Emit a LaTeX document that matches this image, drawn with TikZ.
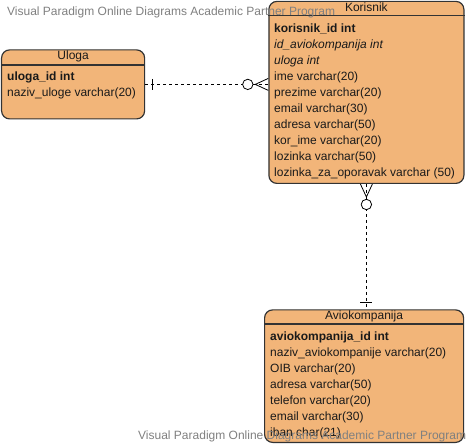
\documentclass[tikz,border=0pt]{standalone}
\usepackage{fontspec}
\setmainfont{Liberation Sans}
\usetikzlibrary{positioning, calc}
\definecolor{entity_fill}{RGB}{242, 181, 121}
\definecolor{entity_line}{RGB}{51, 51, 51}
\definecolor{text_dark}{RGB}{26, 26, 26}
\definecolor{mark_gray}{RGB}{128, 128, 128}

\begin{document}
\begin{tikzpicture}[
    x=1pt, y=-1pt,
    entity/.style={
        rectangle,
        draw=entity_line,
        fill=entity_fill,
        line width=1.2pt,
        rounded corners=8pt,
        anchor=north west,
        inner sep=0pt
    },
    title/.style={
        text=text_dark,
        inner sep=0pt,
        font=\fontsize{12}{14}\selectfont
    },
    fields/.style={
        text=text_dark,
        align=left,
        anchor=north west,
        inner sep=0pt,
        font=\fontsize{12}{16}\selectfont
    },
    rel/.style={
        black,
        line width=0.8pt,
        dash pattern=on 3pt off 3pt
    },
    endmark/.style={
        black,
        line width=0.8pt
    },
    watermark/.style={
        text=mark_gray,
        anchor=west,
        inner sep=0pt,
        font=\fontsize{12}{14}\selectfont
    }
]
\useasboundingbox (0,0) rectangle (466,446);

% Position the entities
\node[entity, minimum width=143pt, minimum height=69pt] (uloga) at (1,49.3) {};
\node[entity, minimum width=195pt, minimum height=182pt] (korisnik) at (268.3,0.8) {};
\node[entity, minimum width=199pt, minimum height=132.5pt] (aviokompanija) at (264,309.3) {};

% Header lines
\draw[entity_line, line width=1.2pt] ($(uloga.north west)+(0,15.7)$) -- ($(uloga.north east)+(0,15.7)$);
\draw[entity_line, line width=1.2pt] ($(korisnik.north west)+(0,14.5)$) -- ($(korisnik.north east)+(0,14.5)$);
\draw[entity_line, line width=1.2pt] ($(aviokompanija.north west)+(0,14.7)$) -- ($(aviokompanija.north east)+(0,14.7)$);

% Titles
\node[title] (uloga_title) at ($(uloga.north)+(0,7.6)$) {Uloga};
\node[title] (korisnik_title) at ($(korisnik.north)+(0,6.9)$) {Korisnik};
\node[title] (aviokompanija_title) at ($(aviokompanija.north)+(0,7.4)$) {Aviokompanija};

% Attributes
\node[fields] (uloga_fields) at (7,71.6) {\textbf{uloga\_id int}\\naziv\_uloge varchar(20)};
\node[fields] (korisnik_fields) at (274,23.4) {\textbf{korisnik\_id int}\\
    \textit{id\_aviokompanija int}\\
    \textit{uloga int}\\
    ime varchar(20)\\
    prezime varchar(20)\\
    email varchar(30)\\
    adresa varchar(50)\\
    kor\_ime varchar(20)\\
    lozinka varchar(50)\\
    lozinka\_za\_oporavak varchar (50)};
\node[fields] (aviokompanija_fields) at (270,331.6) {\textbf{aviokompanija\_id int}\\
    naziv\_aviokompanije varchar(20)\\
    OIB varchar(20)\\
    adresa varchar(50)\\
    telefon varchar(20)\\
    email varchar(30)\\
    iban char(21)};

% Relationships
\coordinate (k_west) at (uloga.east -| korisnik.west);
\coordinate (a_north) at (korisnik.south |- aviokompanija.north);
\draw[rel] (uloga.east) -- (k_west);
\draw[rel] (korisnik.south) -- (a_north);

% Uloga side: one
\draw[endmark] ($(uloga.east)+(7.5,-5.5)$) -- ++(0,11);
% Korisnik side: zero or many
\draw[endmark] ($(k_west)+(0,-6)$) -- ++(-13,6) -- ++(13,6);
\draw[endmark, fill=white] ($(k_west)+(-20.5,0)$) circle (5.2pt);

% Korisnik side: zero or many
\draw[endmark] ($(korisnik.south)+(-6,0)$) -- ++(6,13) -- ++(6,-13);
\draw[endmark, fill=white] ($(korisnik.south)+(0,20.5)$) circle (5.2pt);
% Aviokompanija side: one
\draw[endmark] ($(a_north)+(-6,-6.8)$) -- ++(12,0);

% Watermarks
\node[watermark] (mark_top) at (7,12) {Visual Paradigm Online Diagrams Academic Partner Program};
\node[watermark] (mark_bottom) at (138,436) {Visual Paradigm Online Diagrams Academic Partner Program};

\end{tikzpicture}
\end{document}
